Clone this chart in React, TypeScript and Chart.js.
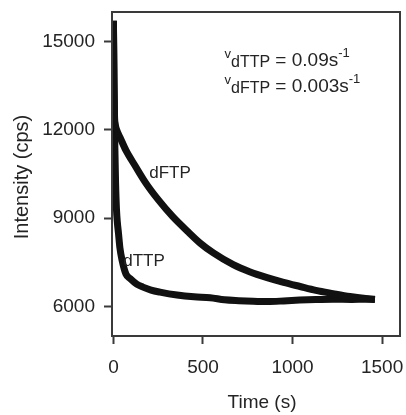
import React, { useEffect, useRef } from "react";
import { Chart, registerables } from "chart.js";

Chart.register(...registerables);

// ---- data ----
const dFTPTime = [0, 3, 6, 10, 18, 40, 70, 121, 180, 251, 330, 418, 485, 558, 669, 760, 858, 950, 1042, 1130, 1226, 1320, 1408, 1460];
const dFTPIntensity = [15700, 13600, 12500, 12200, 12000, 11700, 11300, 10780, 10200, 9620, 9060, 8530, 8150, 7820, 7420, 7180, 6980, 6820, 6680, 6550, 6440, 6340, 6270, 6240];

const dTTPTime = [0, 4, 8, 12, 17, 22, 28, 36, 48, 70, 93, 130, 165, 210, 260, 355, 450, 540, 620, 700, 780, 860, 950, 1040, 1130, 1226, 1330, 1408, 1460];
const dTTPIntensity = [15700, 13200, 11400, 10200, 9300, 8850, 8500, 8000, 7580, 7100, 6950, 6760, 6660, 6560, 6490, 6390, 6330, 6300, 6230, 6200, 6180, 6170, 6190, 6220, 6240, 6250, 6240, 6250, 6250];

const xTickValues = [0, 500, 1000, 1500];
const yTickValues = [6000, 9000, 12000, 15000];
const xTitle = "Time (s)";
const yTitle = "Intensity (cps)";
const curveLabels = ["dFTP", "dTTP"];
const rateLines = [
  { sub: "dTTP", value: " = 0.09s" },
  { sub: "dFTP", value: " = 0.003s" },
];

const FONT = "'Liberation Sans', Arial, sans-serif";
const INK = "#242424";
const AXIS = "#3a3a3a";

function toXY(ts: number[], vs: number[]) {
  return ts.map((t, i) => ({ x: t, y: vs[i] }));
}

const framePlugin = {
  id: "frame",
  afterDraw(chart: any) {
    const { ctx, chartArea: a } = chart;
    ctx.save();
    ctx.strokeStyle = AXIS;
    ctx.lineWidth = 2;
    ctx.strokeRect(a.left, a.top, a.right - a.left, a.bottom - a.top);
    ctx.restore();
  },
};

const textPlugin = {
  id: "texts",
  afterDatasetsDraw(chart: any) {
    const { ctx, scales, chartArea } = chart;
    const x = scales.x;
    const y = scales.y;
    ctx.save();
    ctx.fillStyle = INK;
    ctx.textBaseline = "alphabetic";
    ctx.textAlign = "left";

    // rate constants
    const lineVals = [14150, 13300];
    rateLines.forEach((ln, i) => {
      let px = x.getPixelForValue(620);
      const base = y.getPixelForValue(lineVals[i]);
      ctx.font = `13px ${FONT}`;
      ctx.fillText("v", px, base - 8);
      px += ctx.measureText("v").width;
      ctx.font = `16px ${FONT}`;
      ctx.fillText(ln.sub, px, base + 1);
      px += ctx.measureText(ln.sub).width;
      ctx.font = `19px ${FONT}`;
      ctx.fillText(ln.value, px, base);
      px += ctx.measureText(ln.value).width;
      ctx.font = `13px ${FONT}`;
      ctx.fillText("-1", px, base - 9);
    });

    // curve labels
    ctx.font = `17px ${FONT}`;
    ctx.textAlign = "center";
    ctx.textBaseline = "middle";
    ctx.fillText(curveLabels[0], x.getPixelForValue(316), y.getPixelForValue(10535));
    ctx.fillText(curveLabels[1], x.getPixelForValue(171), y.getPixelForValue(7546));

    // axis titles
    ctx.font = `19px ${FONT}`;
    ctx.fillText(xTitle, (chartArea.left + chartArea.right) / 2 + 6, 403);
    ctx.translate(22, (chartArea.top + chartArea.bottom) / 2 + 3);
    ctx.rotate(-Math.PI / 2);
    ctx.font = `20px ${FONT}`;
    ctx.fillText(yTitle, 0, 0);
    ctx.restore();
  },
};

export default function App() {
  const ref = useRef<HTMLCanvasElement | null>(null);

  useEffect(() => {
    if (!ref.current) return;
    const chart = new Chart(ref.current, {
      type: "line",
      data: {
        datasets: [
          {
            label: "dFTP",
            data: toXY(dFTPTime, dFTPIntensity),
            borderColor: "#111",
            borderWidth: 7,
            pointRadius: 0,
            cubicInterpolationMode: "monotone",
            fill: false,
          },
          {
            label: "dTTP",
            data: toXY(dTTPTime, dTTPIntensity),
            borderColor: "#111",
            borderWidth: 7,
            pointRadius: 0,
            cubicInterpolationMode: "monotone",
            fill: false,
          },
        ],
      },
      options: {
        responsive: false,
        animation: false,
        layout: { padding: { top: 12, right: 6, left: 0, bottom: 0 } },
        plugins: {
          legend: { display: false },
          tooltip: { enabled: false },
        },
        scales: {
          x: {
            type: "linear",
            min: -8,
            max: 1600,
            afterBuildTicks: (s: any) => {
              s.ticks = xTickValues.map((v) => ({ value: v }));
            },
            afterFit: (s: any) => {
              s.height = 79;
              s.paddingLeft = 0;
              s.paddingRight = 0;
            },
            grid: {
              display: true,
              drawOnChartArea: false,
              drawTicks: true,
              tickLength: 8,
              tickWidth: 2,
              tickColor: AXIS,
              color: AXIS,
            },
            border: { display: true, color: AXIS, width: 2 },
            ticks: {
              color: INK,
              font: { family: FONT, size: 19 },
              padding: 12,
              maxRotation: 0,
              autoSkip: false,
              callback: (v: any) => String(v),
            },
            title: { display: false },
          },
          y: {
            type: "linear",
            min: 5000,
            max: 16000,
            afterBuildTicks: (s: any) => {
              s.ticks = yTickValues.map((v) => ({ value: v }));
            },
            afterFit: (s: any) => {
              s.width = 112;
              s.paddingTop = 0;
              s.paddingBottom = 0;
            },
            grid: {
              display: true,
              drawOnChartArea: false,
              drawTicks: true,
              tickLength: 8,
              tickWidth: 2,
              tickColor: AXIS,
              color: AXIS,
            },
            border: { display: true, color: AXIS, width: 2 },
            ticks: {
              color: INK,
              font: { family: FONT, size: 19 },
              padding: 9,
              autoSkip: false,
              callback: (v: any) => String(v),
            },
            title: { display: false },
          },
        },
      },
      plugins: [framePlugin, textPlugin],
    } as any);
    return () => chart.destroy();
  }, []);

  return (
    <div style={{ position: "fixed", left: 0, top: 0, width: 406, height: 415, background: "#fff" }}>
      <canvas ref={ref} width={406} height={415} style={{ display: "block" }} />
    </div>
  );
}
